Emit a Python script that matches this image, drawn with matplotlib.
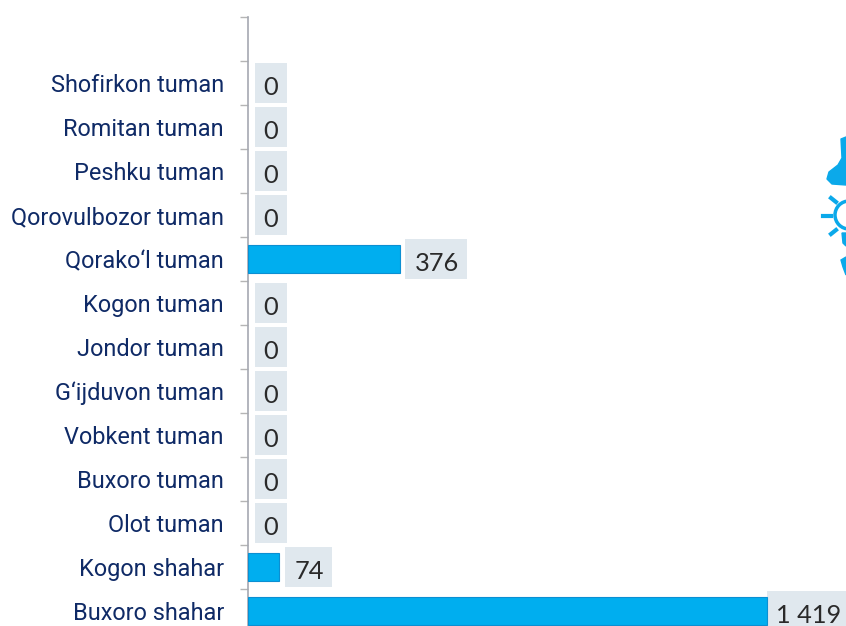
import numpy as np
import matplotlib.pyplot as plt
from matplotlib.patches import Polygon, Circle

categories = ["Buxoro shahar", "Kogon shahar", "Olot tuman", "Buxoro tuman", "Vobkent tuman",
              "G‘ijduvon tuman", "Jondor tuman", "Kogon tuman", "Qorako‘l tuman",
              "Qorovulbozor tuman", "Peshku tuman", "Romitan tuman", "Shofirkon tuman"]
# printed values
value_labels = ["1 419", "74", "0", "0", "0", "0", "0", "0", "376", "0", "0", "0", "0"]
# bar lengths as drawn in the picture, the printed numbers are not to one scale
bar_lengths = [1419, 85, 0, 0, 0, 0, 0, 0, 418, 0, 0, 0, 0]

W, H = 846, 626
fig = plt.figure(figsize=(W / 100, H / 100), dpi=100)
ax = fig.add_axes([247.5 / W, 0, 1 - 247.5 / W, (H - 17) / H])
ax.set_ylim(-15 / 44, 594 / 44)
px = 1419 / 519  # x units per pixel
ax.set_xlim(0, (W - 247.5) * px)

y = np.arange(len(categories))
edge = ["#0b8fd2" if w > 0 else "none" for w in bar_lengths]
ax.barh(y, bar_lengths, height=0.64, color="#00aeef", edgecolor=edge, linewidth=0.8, zorder=3)

for yi, w, lab in zip(y, bar_lengths, value_labels):
    # gap after the bar, box width, text inset, all in pixels
    if w == 1419:
        gap, bw, inset = 0, 90, 9.5
    elif w > 0:
        gap, bw, inset = (6, 47, 10) if lab == "74" else (5, 62, 9)
    else:
        gap, bw, inset = 7, 32, 8.5
    ax.barh(yi, bw * px, left=w + gap * px, height=40 / 44, color="#e0e8ee", zorder=1)
    ax.annotate(lab, (w, yi), xytext=((gap + inset) * 0.72, -3.2), textcoords="offset points",
                va="center", ha="left", fontsize=18.3, family="Lato", color="#2a2a2a",
                zorder=4, annotation_clip=False)

for s in ["top", "right", "bottom"]:
    ax.spines[s].set_visible(False)
ax.spines["left"].set_color("#a5a8b2")
ax.spines["left"].set_linewidth(1.2)
ax.set_xticks([])
ax.set_yticks(y)
ax.set_yticklabels(categories, family="Roboto", fontsize=16.9, color="#0f2a66")
ax.tick_params(axis="y", which="major", length=0, pad=17)
ax.set_yticks(np.arange(0.5, 14, 1), minor=True)
ax.tick_params(axis="y", which="minor", length=5.5, width=1, color="#b5b5b5")

# cut off icons at the right edge, in pixel coordinates
deco = fig.add_axes([0, 0, 1, 1], facecolor="none")
deco.set_xlim(0, W)
deco.set_ylim(H, 0)
deco.axis("off")
blue = "#0ba9ea"
deco.add_patch(Polygon([(841, 139), (846, 137), (846, 185), (832, 184), (827, 179), (829, 172),
                        (838, 165), (842, 158)], fc=blue, ec=blue, joinstyle="round"))
deco.add_patch(Circle((849, 215), 14, fc="none", ec=blue, lw=2.5))
for x0, y0, x1, y1 in [(823, 216, 831, 216), (831, 198, 836, 202), (831, 234, 836, 230)]:
    deco.plot([x0, x1], [y0, y1], color=blue, lw=3)
deco.add_patch(Polygon([(842, 233), (846, 233), (846, 246), (843, 243)], fc=blue, ec=blue))
deco.add_patch(Polygon([(841, 260), (846, 257), (846, 275), (843, 267)], fc=blue, ec=blue))

fig.savefig("out.png", dpi=100)
